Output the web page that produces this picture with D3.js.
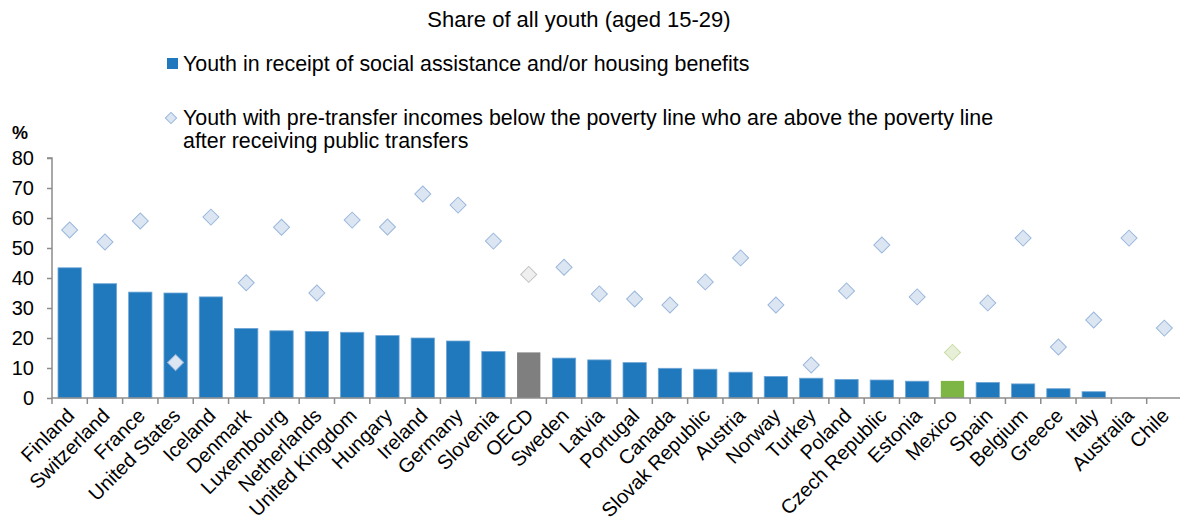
<!DOCTYPE html>
<html>
<head>
<meta charset="utf-8">
<script src="https://cdn.jsdelivr.net/npm/d3@7"></script>
<style>
  body { margin: 0; background: #fff; }
  svg text { font-family: "Liberation Sans", Arial, sans-serif; fill: #000; }
</style>
</head>
<body>
<script>
const countries = ['Finland', 'Switzerland', 'France', 'United States', 'Iceland', 'Denmark',
    'Luxembourg', 'Netherlands', 'United Kingdom', 'Hungary', 'Ireland', 'Germany', 'Slovenia',
    'OECD', 'Sweden', 'Latvia', 'Portugal', 'Canada', 'Slovak Republic', 'Austria', 'Norway',
    'Turkey', 'Poland', 'Czech Republic', 'Estonia', 'Mexico', 'Spain', 'Belgium', 'Greece',
    'Italy', 'Australia', 'Chile']
// youth receiving social assistance / housing benefits (bars)
const assistance = [43.4, 38.1, 35.3, 35.0, 33.7, 23.2, 22.4, 22.2, 21.9, 20.8, 20.0, 19.0, 15.5,
    15.2, 13.3, 12.7, 11.8, 9.9, 9.6, 8.6, 7.2, 6.6, 6.2, 6.0, 5.6, 5.7, 5.2, 4.7, 3.1,
    2.1, null, null]
// pre-transfer poor lifted above poverty line (diamonds)
const lifted = [56, 52, 59, 11.8, 60.3, 38.4, 56.9, 35, 59.3, 57, 68, 64.3, 52.3,
    41.2, 43.6, 34.7, 33, 31, 38.7, 46.7, 31, 11, 35.7, 51, 33.7, 15.2, 31.7, 53.3, 17,
    26, 53.3, 23.3]
const yTicks = [0, 10, 20, 30, 40, 50, 60, 70, 80]

const chart = () => {
    let width = 1180,
        height = 525
    let svg = d3.select('body').append('svg')
        .attr('width', width)
        .attr('height', height)

    let x = d3.scaleBand()
        .domain(countries)
        .range([52, 1182])
        .paddingInner(0.34)
        .paddingOuter(0.17)
    let y = d3.scaleLinear()
        .domain([0, 80])
        .range([398, 158])

    let barColor = d => d === 'OECD' ? '#7f7f7f' : d === 'Mexico' ? '#7db645' : '#2079bc'
    let dFill = d => d === 'OECD' ? '#efefef' : d === 'Mexico' ? '#e8efd9' : '#dce6f2'
    let dStroke = d => d === 'OECD' ? '#c0c0c0' : d === 'Mexico' ? '#c8dba4' : '#9ab7dc'

    // title + legend
    svg.append('text')
        .attr('x', 579).attr('y', 27)
        .attr('text-anchor', 'middle')
        .style('font-size', '22px')
        .text('Share of all youth (aged 15-29)')

    svg.append('rect')
        .attr('x', 167).attr('y', 58)
        .attr('width', 11).attr('height', 11)
        .attr('fill', '#2079bc')
    svg.append('text')
        .attr('x', 183).attr('y', 71)
        .style('font-size', '21.4px')
        .text('Youth in receipt of social assistance and/or housing benefits')

    let diamond = d3.symbol().type(d3.symbolSquare).size(128)
    let legDiamond = d3.symbol().type(d3.symbolSquare).size(64)
    svg.append('path')
        .attr('d', legDiamond)
        .attr('transform', 'translate(171,118) rotate(45)')
        .attr('fill', '#dce6f2')
        .attr('stroke', '#9ab7dc')
    svg.append('text')
        .attr('x', 183).attr('y', 125)
        .style('font-size', '21.4px')
        .text('Youth with pre-transfer incomes below the poverty line who are above the poverty line')
    svg.append('text')
        .attr('x', 183).attr('y', 148)
        .style('font-size', '21.4px')
        .text('after receiving public transfers')

    svg.append('text')
        .attr('x', 12).attr('y', 139)
        .style('font-size', '18px')
        .style('font-weight', 'bold')
        .text('%')

    // y axis
    let yAxis = svg.append('g')
        .attr('transform', 'translate(52,0)')
        .call(d3.axisLeft(y).tickValues(yTicks).tickSize(5).tickPadding(13))
    yAxis.selectAll('line, path').attr('stroke', '#8c8c8c').attr('stroke-width', 1.5)
    yAxis.selectAll('text').style('font-size', '20px').attr('fill', '#000')
    yAxis.select('.domain').attr('d', 'M-5,158H0V398')

    // bars
    let data = countries.map((c, i) => ({ c, v: assistance[i], p: lifted[i] }))
    svg.selectAll('.bar')
        .data(data.filter(d => d.v != null)).enter()
        .append('rect')
        .attr('class', 'bar')
        .attr('x', d => x(d.c))
        .attr('y', d => y(d.v))
        .attr('width', x.bandwidth())
        .attr('height', d => y(0) - y(d.v))
        .attr('fill', d => barColor(d.c))
        .attr('stroke', d => d.c === 'OECD' || d.c === 'Mexico' ? 'none' : '#6fa6d6')
        .attr('stroke-width', 0.8)

    // x axis
    let step = x.step()
    let xAxis = svg.append('g')
        .attr('transform', 'translate(0,398)')
    xAxis.append('line')
        .attr('x1', 52).attr('x2', 1180)
        .attr('stroke', '#8c8c8c').attr('stroke-width', 1.5)
    xAxis.selectAll('.tick')
        .data(countries).enter()
        .append('line')
        .attr('x1', d => x(d) - x.paddingInner() * step / 2)
        .attr('x2', d => x(d) - x.paddingInner() * step / 2)
        .attr('y1', 0).attr('y2', 6)
        .attr('stroke', '#8c8c8c').attr('stroke-width', 1.5)
    xAxis.selectAll('.lbl')
        .data(countries).enter()
        .append('text')
        .attr('text-anchor', 'end')
        .attr('transform', d => `translate(${x(d) + x.bandwidth() / 2 + 6},19) rotate(-45)`)
        .style('font-size', '20px')
        .text(d => d)

    // diamonds
    svg.selectAll('.pt')
        .data(data).enter()
        .append('path')
        .attr('class', 'pt')
        .attr('d', diamond)
        .attr('transform', d => `translate(${x(d.c) + x.bandwidth() / 2},${y(d.p)}) rotate(45)`)
        .attr('fill', d => dFill(d.c))
        .attr('stroke', d => dStroke(d.c))
        .attr('stroke-width', 1)
}

chart()
</script>
</body>
</html>
